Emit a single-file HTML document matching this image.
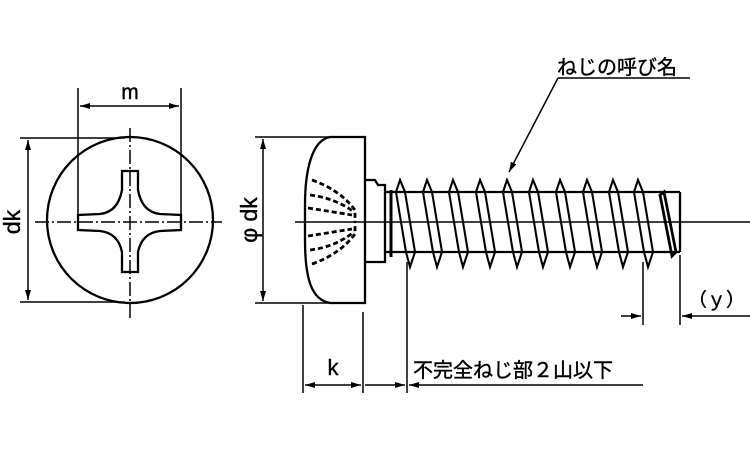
<!DOCTYPE html>
<html><head><meta charset="utf-8"><style>
html,body{margin:0;padding:0;background:#fff;}
svg{display:block;}
text{font-family:"Liberation Sans","Noto Sans CJK JP",sans-serif;fill:#000;stroke:#000;stroke-width:0.4;}
</style></head><body>
<svg width="750" height="450" viewBox="0 0 750 450" xmlns="http://www.w3.org/2000/svg">
<defs>
<marker id="a" markerWidth="10" markerHeight="6" refX="10" refY="3" orient="auto-start-reverse" markerUnits="userSpaceOnUse"><path d="M0,0 L10,3 L0,6 Z" fill="#000" stroke="none"/></marker>
</defs>
<g stroke="#000" fill="none" stroke-width="2.3">
<circle cx="130" cy="220" r="83"/>
<path d="M122,171 L138,171 L138,190 Q142,212 160,214 L181,215 L181,230 L160,231 Q142,233 138,252 L138,272 L122,272 L122,252 Q118,233 100,231 L78,230 L78,215 L100,214 Q118,212 122,190 Z"/>
<g stroke-width="1.5">
<line x1="78" y1="88" x2="78" y2="222"/><line x1="181" y1="88" x2="181" y2="222"/>
<line x1="80" y1="106" x2="179" y2="106" marker-start="url(#a)" marker-end="url(#a)"/>
<line x1="20" y1="138" x2="125" y2="138"/><line x1="20" y1="302" x2="125" y2="302"/>
<line x1="28" y1="140" x2="28" y2="300" marker-start="url(#a)" marker-end="url(#a)"/>
<line x1="35" y1="222" x2="222" y2="222" stroke-dasharray="14,3,2,3"/>
<line x1="130" y1="128" x2="130" y2="318" stroke-dasharray="14,3,2,3"/>
</g>
<path d="M365,137 L330,137 C312,140 305,170 305,205 L305,240 C305,280 312,300 330,303 L365,303 Z"/>
<path d="M365,180 L375,180 L378,185 L385,185 L385,262 L365,262"/>
<g stroke-dasharray="5,3" stroke-width="2.8">
<path d="M312,180 Q340,190 355,210 L355,222"/>
<path d="M310,195 Q335,198 354,212"/>
<path d="M308,208 L352,215"/>
<path d="M312,264 Q340,254 355,234 L355,222"/>
<path d="M310,250 Q335,247 354,232"/>
<path d="M308,236 L352,229"/>
</g>
<line x1="385" y1="192" x2="680" y2="192"/>
<line x1="385" y1="252" x2="680" y2="252"/>
<line x1="680" y1="192" x2="680" y2="252"/>
<line x1="391" y1="190" x2="391" y2="257" stroke-width="3"/>
<g stroke-width="2.1">
<path d="M396,192 L400,180 L405,192 L415,252 L410,267 L406,252 Z"/>
<path d="M423,192 L427,180 L432,192 L442,252 L437,267 L433,252 Z"/>
<path d="M449,192 L453,180 L458,192 L468,252 L463,267 L459,252 Z"/>
<path d="M476,192 L480,180 L485,192 L495,252 L490,267 L486,252 Z"/>
<path d="M503,192 L507,180 L512,192 L522,252 L517,267 L513,252 Z"/>
<path d="M529,192 L533,180 L538,192 L548,252 L543,267 L539,252 Z"/>
<path d="M556,192 L560,180 L565,192 L575,252 L570,267 L566,252 Z"/>
<path d="M583,192 L587,180 L592,192 L602,252 L597,267 L593,252 Z"/>
<path d="M609,192 L613,180 L618,192 L628,252 L623,267 L619,252 Z"/>
<path d="M634,192 L638,180 L643,192 L653,252 L648,267 L644,252 Z"/>
<path d="M660,195 L664,192 L676,252 L672,256 Z" stroke-width="2.8"/>
</g>
<g stroke-width="1.5">
<line x1="255" y1="137" x2="365" y2="137"/><line x1="255" y1="303" x2="365" y2="303"/>
<line x1="263" y1="139" x2="263" y2="301" marker-start="url(#a)" marker-end="url(#a)"/>
<line x1="295" y1="222" x2="750" y2="222"/>
<line x1="558" y1="78" x2="690" y2="78"/>
<line x1="558" y1="78" x2="509" y2="172" marker-end="url(#a)"/>
<line x1="303" y1="305" x2="303" y2="393"/>
<line x1="363" y1="312" x2="363" y2="393"/>
<line x1="407" y1="262" x2="407" y2="393"/>
<line x1="305" y1="385" x2="361" y2="385" marker-start="url(#a)" marker-end="url(#a)"/>
<line x1="365" y1="385" x2="405" y2="385" marker-end="url(#a)"/>
<line x1="409" y1="385" x2="643" y2="385" marker-start="url(#a)"/>
<line x1="643" y1="262" x2="643" y2="325"/>
<line x1="680" y1="255" x2="680" y2="325"/>
<line x1="621" y1="316" x2="641" y2="316" marker-end="url(#a)"/>
<line x1="750" y1="316" x2="682" y2="316" marker-end="url(#a)"/>
</g>
</g>
<text x="130" y="99" font-size="21" text-anchor="middle">m</text>
<text transform="translate(20,222) rotate(-90)" font-size="23" text-anchor="middle">dk</text>
<text transform="translate(257,220) rotate(-90)" font-size="23" text-anchor="middle">φ dk</text>
<text x="557" y="74" font-size="20">ねじの呼び名</text>
<text x="333" y="375" font-size="22" text-anchor="middle">k</text>
<text x="413" y="377" font-size="20">不完全ねじ部２山以下</text>
<text x="688" y="306" font-size="19">（ｙ）</text>
</svg>
</body></html>
